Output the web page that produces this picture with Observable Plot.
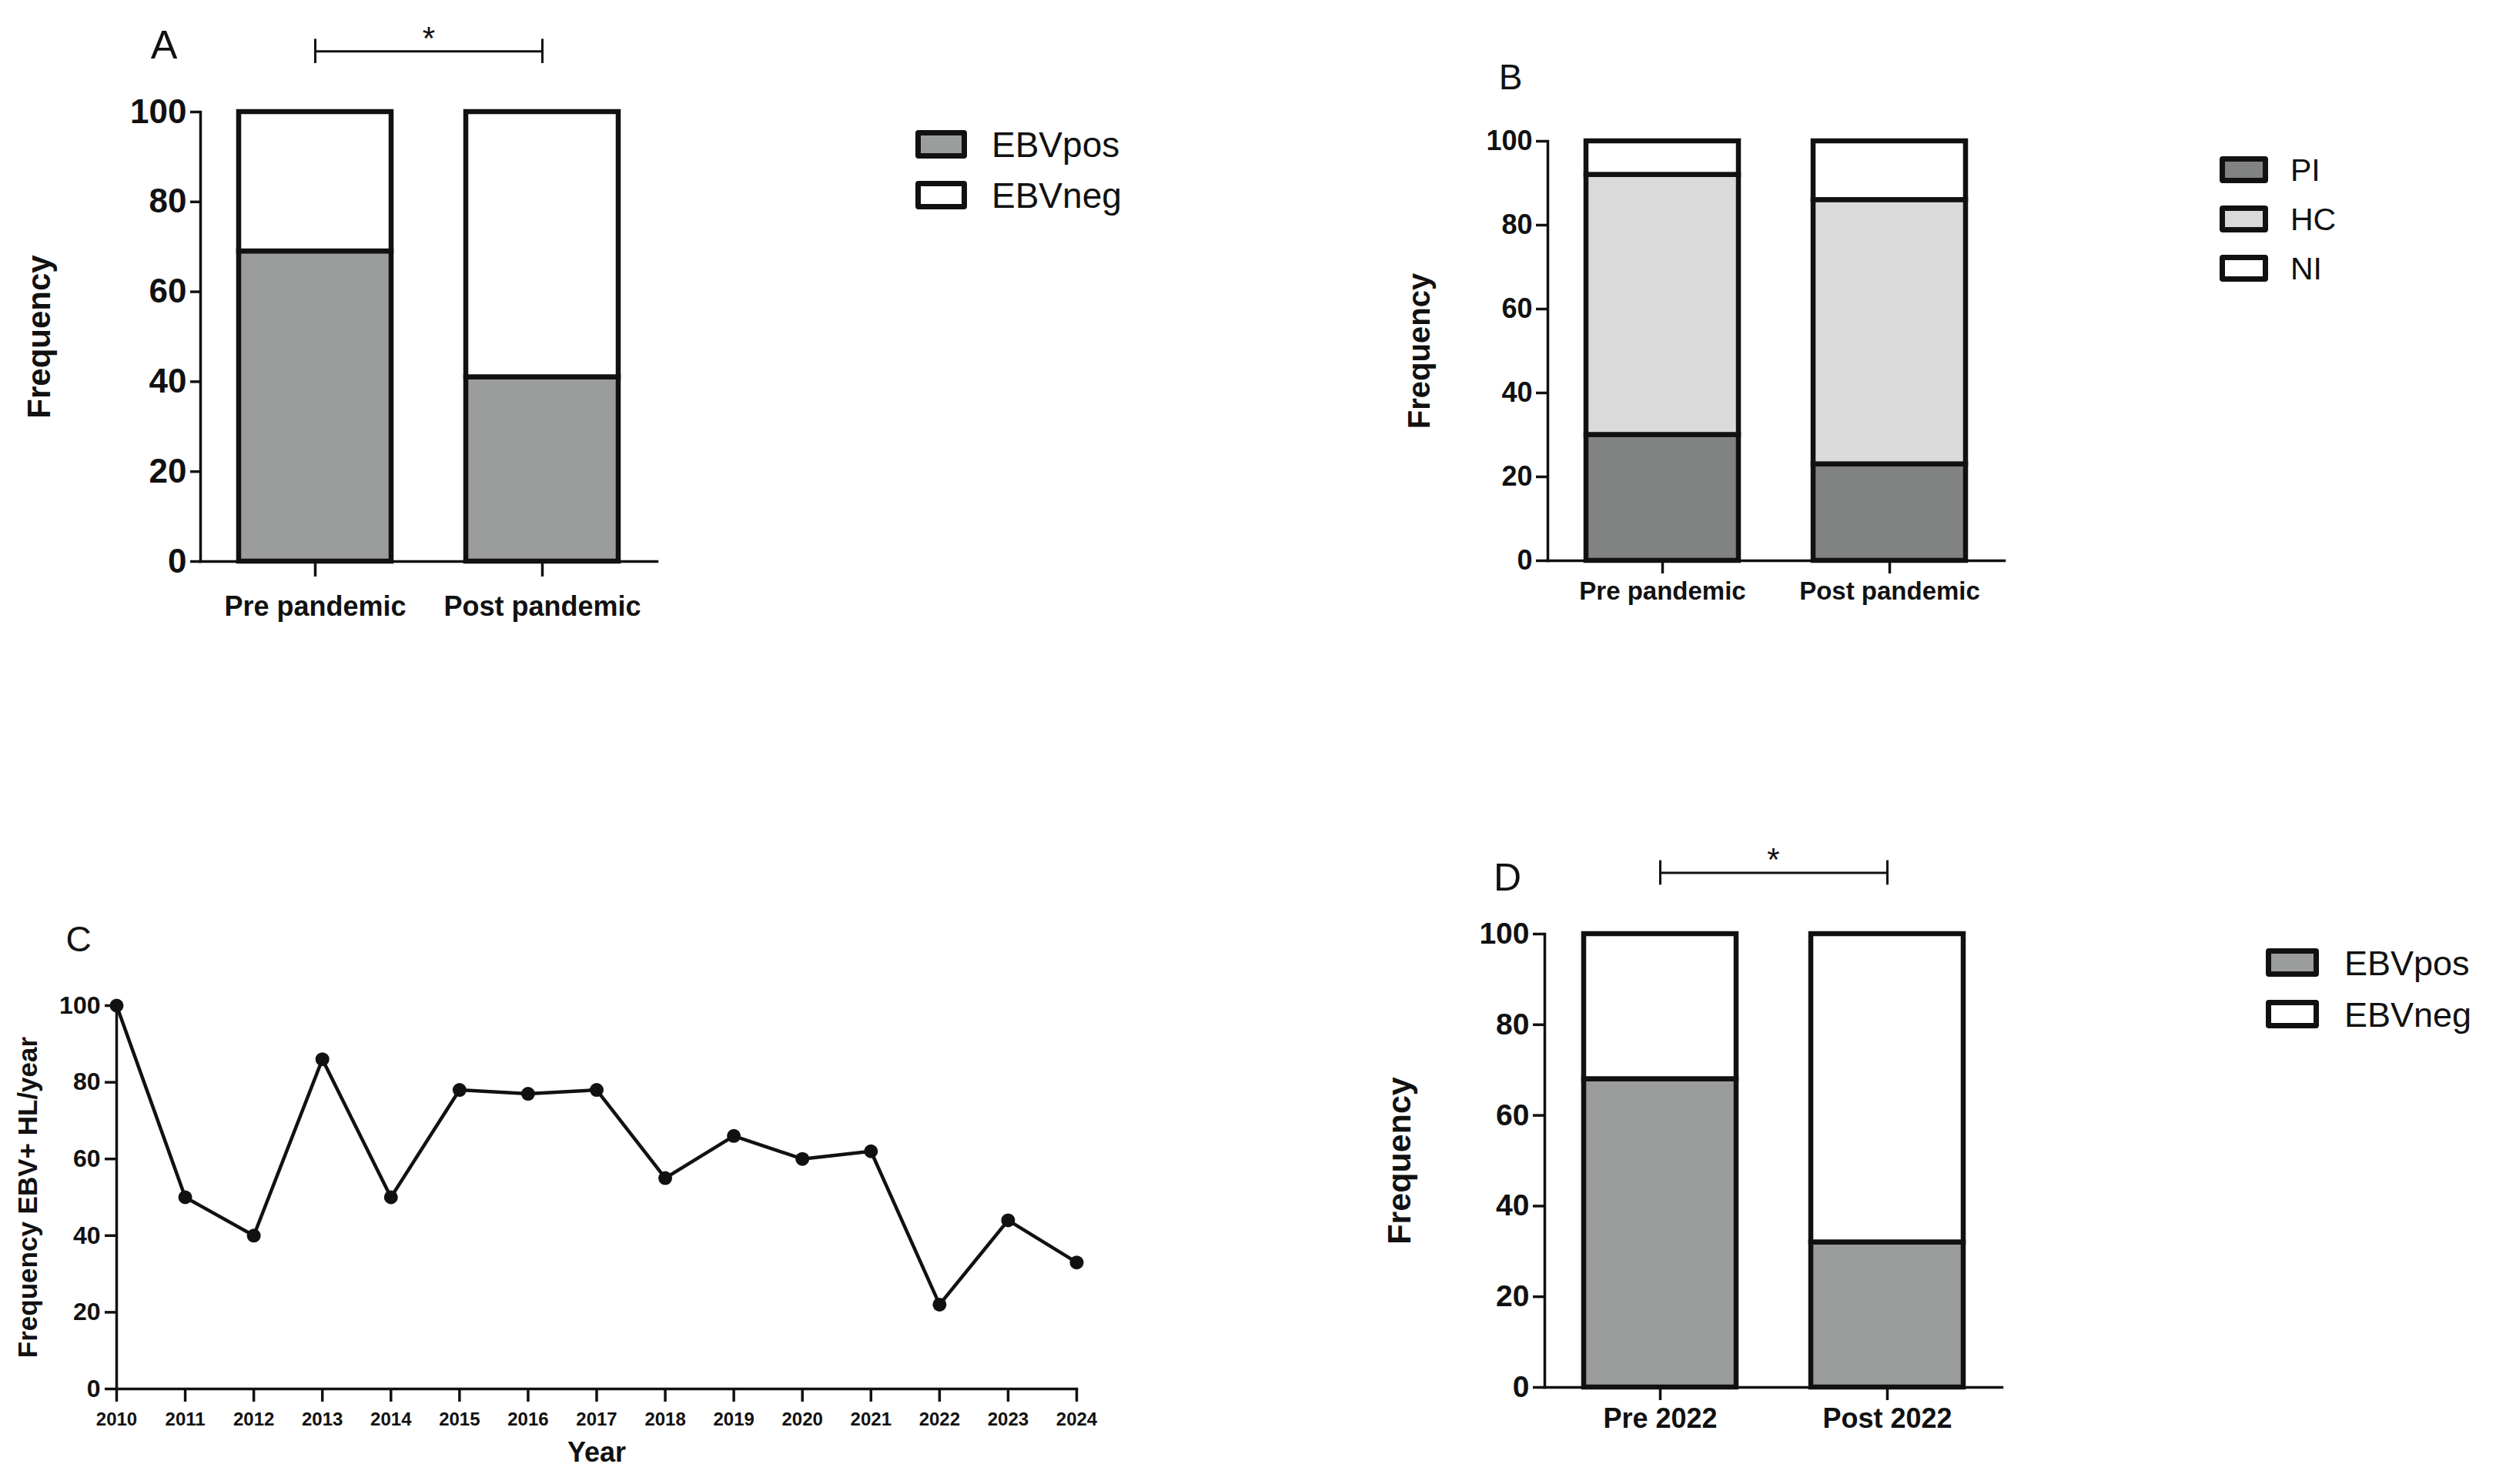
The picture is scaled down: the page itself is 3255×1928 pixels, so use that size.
<!DOCTYPE html>
<html><head><meta charset="utf-8">
<script src="https://cdn.jsdelivr.net/npm/d3@7"></script>
<script src="https://cdn.jsdelivr.net/npm/@observablehq/plot@0.6"></script>
<style>
html,body{margin:0;padding:0;background:#fff;}
#root{position:relative;width:3255px;height:1928px;overflow:hidden;font-family:"Liberation Sans",Arial,sans-serif;color:#111;}
#root svg{position:absolute;overflow:visible;}
.txt{position:absolute;white-space:nowrap;line-height:1;transform:translateY(-50%);}
.ctr{transform:translate(-50%,-50%);}
.sw{position:absolute;box-sizing:border-box;border:7px solid #111;border-radius:4px;}
svg g[aria-label="y-axis tick label"], svg g[aria-label="x-axis tick label"]{font-weight:bold;}
</style></head><body><div id="root"></div>
<script>
// ---------- data ----------
const groupsA = ["Pre pandemic", "Post pandemic"];
const seriesA = ["EBVpos", "EBVneg"];
const ebvPosA = [69, 41];
const ebvNegA = [31, 59];

const groupsB = ["Pre pandemic", "Post pandemic"];
const seriesB = ["PI", "HC", "NI"];
const piB = [30, 23];
const hcB = [62, 63];
const niB = [8, 14];

const yearsC = [2010, 2011, 2012, 2013, 2014, 2015, 2016, 2017, 2018, 2019, 2020, 2021, 2022, 2023, 2024];
const freqC = [100, 50, 40, 86, 50, 78, 77, 78, 55, 66, 60, 62, 22, 44, 33];

const groupsD = ["Pre 2022", "Post 2022"];
const seriesD = ["EBVpos", "EBVneg"];
const ebvPosD = [68, 32];
const ebvNegD = [32, 68];

const freqTicks = [0, 20, 40, 60, 80, 100];
const sigLabel = "*";

// ---------- styles ----------
const fills = {EBVpos: "#9a9d9c", EBVneg: "#ffffff", PI: "#808382", HC: "#dadada", NI: "#ffffff"};
const INK = "#111";
const root = document.getElementById("root");

function table(groups, series, values) {
  return groups.flatMap((g, i) => series.map((s, j) => ({group: g, series: s, value: values[j][i]})));
}

function place(svg, left, top) {
  svg.style.left = left + "px";
  svg.style.top = top + "px";
  root.appendChild(svg);
}

function barChart(o) {
  const rows = table(o.groups, o.series, o.values);
  const marks = [
    Plot.barY(rows, {x: "group", y: "value", fill: "series", stroke: INK, strokeWidth: 6.5}),
    Plot.axisY({ticks: freqTicks, tickSize: o.ytick, tickPadding: o.ypad, fontSize: o.yfont, fontWeight: "bold", strokeWidth: 3.5, label: null}),
    Plot.axisX({tickSize: o.xtick, tickPadding: o.xpad, fontSize: o.xfont, fontWeight: "bold", strokeWidth: 3.5, label: null}),
    Plot.frame({anchor: "left", strokeWidth: 3.5, stroke: INK}),
    Plot.frame({anchor: "bottom", strokeWidth: 3.5, stroke: INK}),
    Plot.text(["Frequency"], {frameAnchor: "left", textAnchor: "middle", rotate: -90, dx: o.freqDx, fontSize: o.freqFont, fontWeight: "bold", fill: INK})
  ];
  if (o.sig) {
    const sigRows = o.groups.map(g => ({group: g, y: 113.5}));
    marks.push(
      Plot.line(sigRows, {x: "group", y: "y", stroke: INK, strokeWidth: 3}),
      Plot.ruleX(o.groups, {x: d => d, y1: 110.8, y2: 116.2, stroke: INK, strokeWidth: 3}),
      Plot.text([sigLabel], {y: [113.5], frameAnchor: "middle", dy: -16, fontSize: 42, fill: INK})
    );
  }
  const svg = Plot.plot({
    width: o.width, height: o.height,
    marginLeft: o.axisX - o.left, marginRight: o.left + o.width - o.right,
    marginTop: o.y100 - o.top, marginBottom: o.top + o.height - o.y0,
    style: {background: "transparent", fontFamily: '"Liberation Sans", Arial, sans-serif', color: INK, overflow: "visible"},
    x: {type: "band", domain: o.groups, paddingInner: 0.33, paddingOuter: 0.17},
    y: {domain: [0, 100]},
    color: {domain: o.series, range: o.series.map(s => fills[s])},
    marks
  });
  place(svg, o.left, o.top);
}

function legend(series, x, y, step, w, h, textX, fontSize) {
  series.forEach((s, i) => {
    const sw = document.createElement("div");
    sw.className = "sw";
    Object.assign(sw.style, {left: x + "px", top: (y + i * step) + "px", width: w + "px", height: h + "px", background: fills[s]});
    root.appendChild(sw);
    const t = document.createElement("div");
    t.className = "txt";
    t.textContent = s;
    Object.assign(t.style, {left: textX + "px", top: (y + i * step + h / 2) + "px", fontSize: fontSize + "px"});
    root.appendChild(t);
  });
}

function letter(s, cx, cy, size) {
  const t = document.createElement("div");
  t.className = "txt ctr";
  t.textContent = s;
  Object.assign(t.style, {left: cx + "px", top: cy + "px", fontSize: size + "px"});
  root.appendChild(t);
}

// ---------- Panel A ----------
barChart({groups: groupsA, series: seriesA, values: [ebvPosA, ebvNegA],
  left: 0, top: 0, width: 900, height: 850, axisX: 260, right: 853, y100: 145, y0: 729,
  ytick: 13, ypad: 5, yfont: 44, xtick: 20, xpad: 25, xfont: 36, freqDx: -209, freqFont: 42, sig: true});
legend(seriesA, 1189, 169, 66, 67, 37, 1288, 46);
letter("A", 213, 58, 52);

// ---------- Panel B ----------
barChart({groups: groupsB, series: seriesB, values: [piB, hcB, niB],
  left: 1780, top: 0, width: 900, height: 850, axisX: 2010, right: 2603, y100: 183, y0: 728,
  ytick: 15, ypad: 5, yfont: 36, xtick: 17, xpad: 10, xfont: 33, freqDx: -166, freqFont: 40, sig: false});
legend(seriesB, 2883, 203, 64, 63, 35, 2975, 41);
letter("B", 1962, 100, 46);

// ---------- Panel C ----------
{
  const rowsC = yearsC.map((year, i) => ({year, freq: freqC[i]}));
  const svg = Plot.plot({
    width: 1460, height: 778, marginLeft: 151, marginRight: 62, marginTop: 156, marginBottom: 124,
    style: {background: "transparent", fontFamily: '"Liberation Sans", Arial, sans-serif', color: INK, overflow: "visible"},
    x: {domain: [2010, 2024]},
    y: {domain: [0, 100]},
    marks: [
      Plot.axisY({ticks: freqTicks, tickSize: 15, tickPadding: 6, fontSize: 32, fontWeight: "bold", strokeWidth: 3.5, label: null}),
      Plot.axisX({ticks: yearsC, tickFormat: d => String(d), tickSize: 17, tickPadding: 13, fontSize: 24, fontWeight: "bold", strokeWidth: 3.5, label: null}),
      Plot.frame({anchor: "left", strokeWidth: 3.5, stroke: INK}),
      Plot.frame({anchor: "bottom", strokeWidth: 3.5, stroke: INK}),
      Plot.line(rowsC, {x: "year", y: "freq", stroke: INK, strokeWidth: 4.5}),
      Plot.dot(rowsC, {x: "year", y: "freq", r: 9, fill: INK}),
      Plot.text(["Frequency EBV+ HL/year"], {frameAnchor: "left", textAnchor: "middle", rotate: -90, dx: -115, fontSize: 35, fontWeight: "bold", fill: INK}),
      Plot.text(["Year"], {frameAnchor: "bottom", dy: 94, fontSize: 36, fontWeight: "bold", fill: INK})
    ]
  });
  place(svg, 0, 1150);
}
letter("C", 102, 1220, 46);

// ---------- Panel D ----------
barChart({groups: groupsD, series: seriesD, values: [ebvPosD, ebvNegD],
  left: 1780, top: 1000, width: 900, height: 928, axisX: 2006, right: 2600, y100: 1213, y0: 1802,
  ytick: 15, ypad: 5, yfont: 39, xtick: 17, xpad: 10, xfont: 36, freqDx: -188, freqFont: 43, sig: true});
legend(seriesD, 2943, 1232, 67, 69, 37, 3045, 45);
letter("D", 1958, 1140, 50);
</script>
</body></html>
